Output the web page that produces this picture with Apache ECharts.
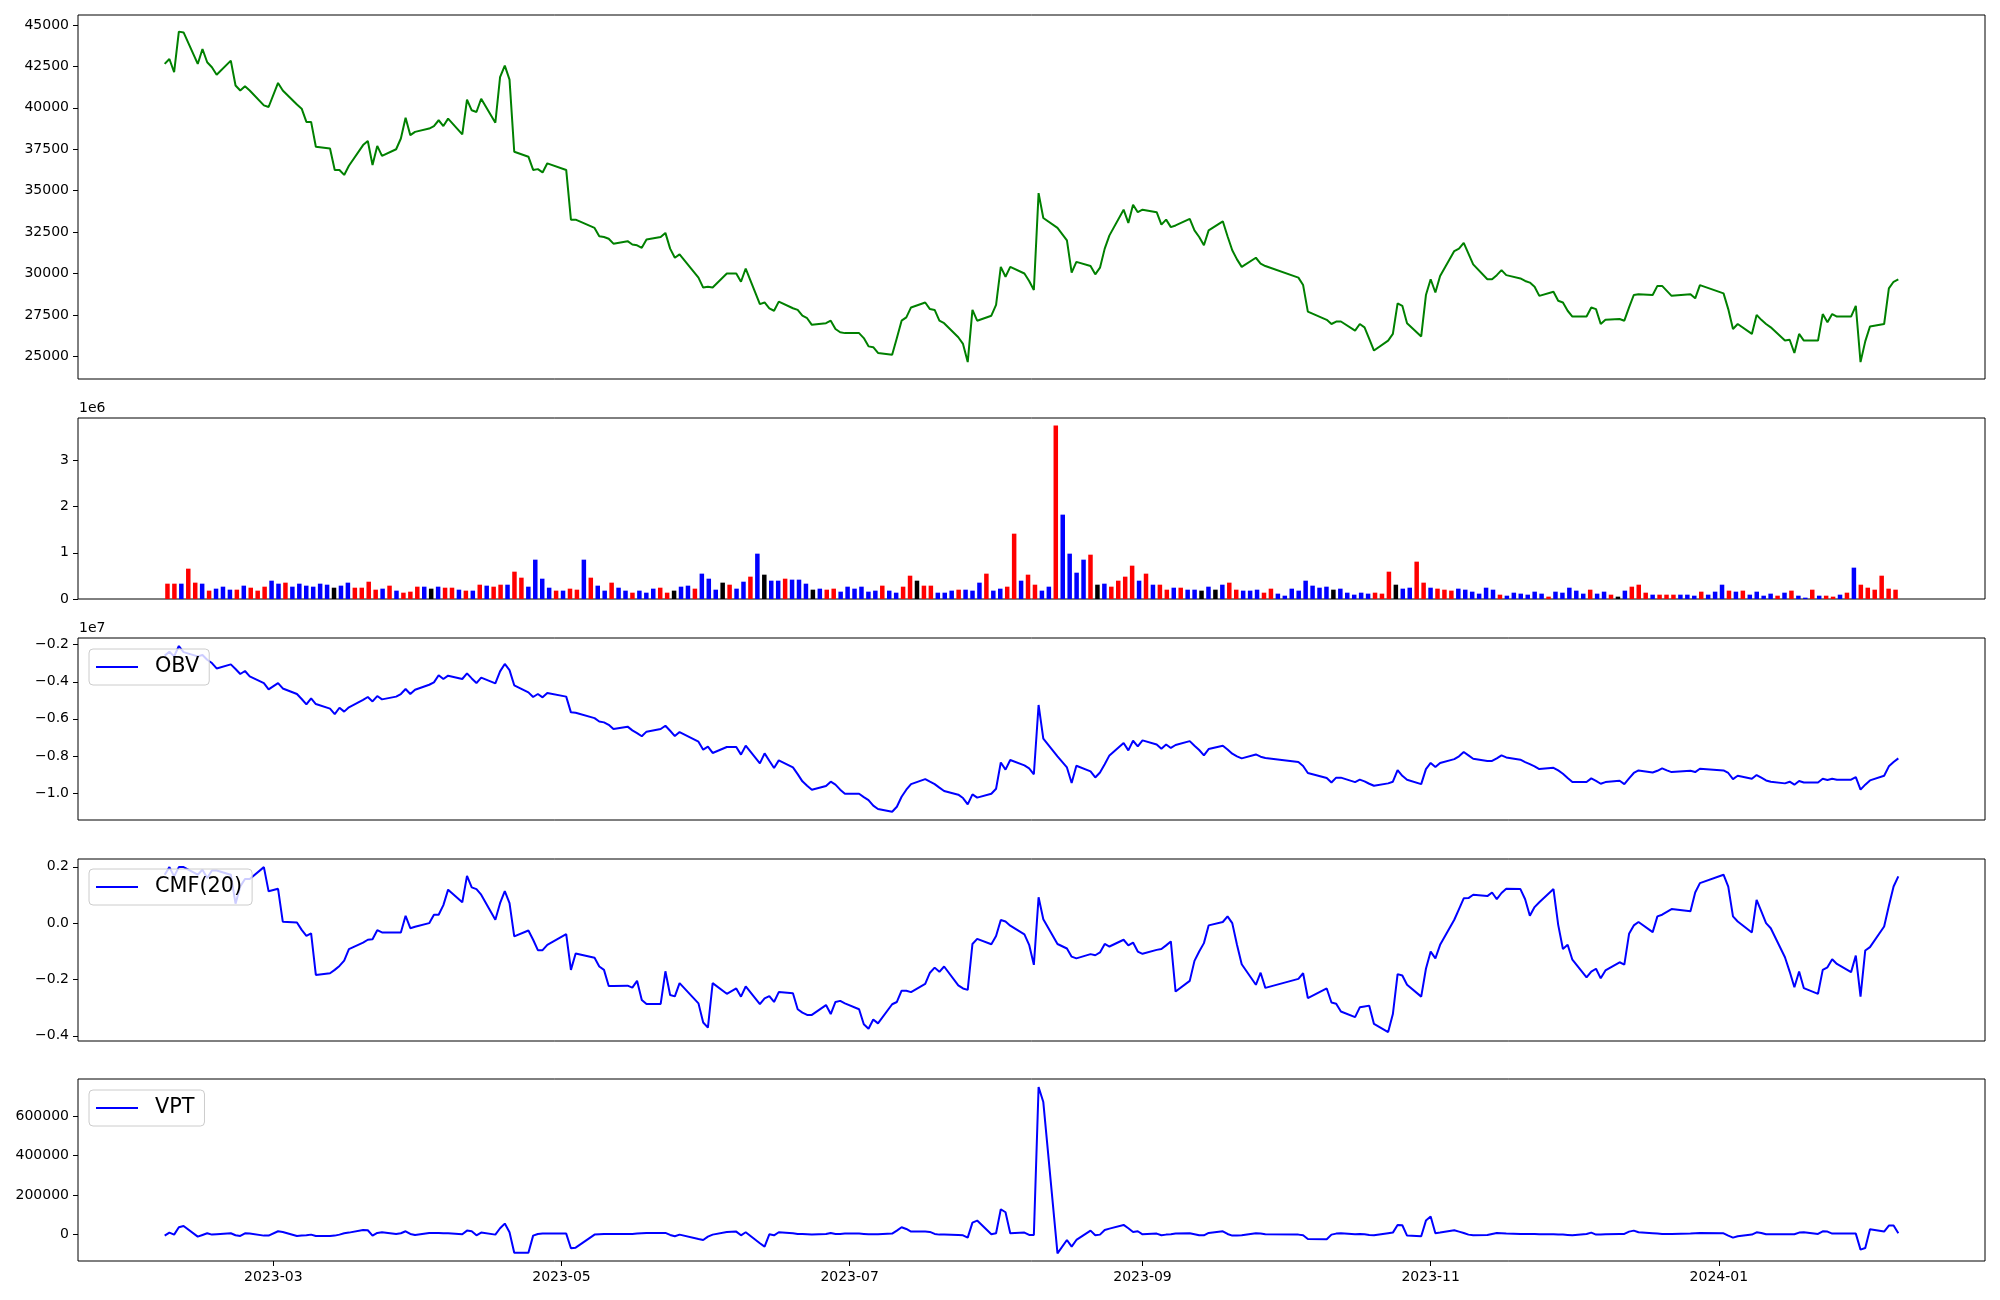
<!DOCTYPE html>
<html><head><meta charset="utf-8">
<script src="https://cdn.jsdelivr.net/npm/echarts@6/dist/echarts.min.js"></script>
<style>html,body{margin:0;padding:0;background:#fff}#c{width:2000px;height:1300px}</style>
</head><body><div id="c"></div>
<script>
// KRX trading days (month -> day list)
const monthDays = [
 ['2023-02','6,7,8,9,10,13,14,15,16,17,20,21,22,23,24,27,28'],
 ['2023-03','2,3,6,7,8,9,10,13,14,15,16,17,20,21,22,23,24,27,28,29,30,31'],
 ['2023-04','3,4,5,6,7,10,11,12,13,14,17,18,19,20,21,24,25,26,27,28'],
 ['2023-05','2,3,4,8,9,10,11,12,15,16,17,18,19,22,23,24,25,26,30,31'],
 ['2023-06','1,2,5,7,8,9,12,13,14,15,16,19,20,21,22,23,26,27,28,29,30'],
 ['2023-07','3,4,5,6,7,10,11,12,13,14,17,18,19,20,21,24,25,26,27,28,31'],
 ['2023-08','1,2,3,4,7,8,9,10,11,14,16,17,18,21,22,23,24,25,28,29,30,31'],
 ['2023-09','1,4,5,6,7,8,11,12,13,14,15,18,19,20,21,22,25,26,27'],
 ['2023-10','4,5,6,10,11,12,13,16,17,18,19,20,23,24,25,26,27,30,31'],
 ['2023-11','1,2,3,6,7,8,9,10,13,14,15,16,17,20,21,22,23,24,27,28,29,30'],
 ['2023-12','1,4,5,6,7,8,11,12,13,14,15,18,19,20,21,22,26,27,28'],
 ['2024-01','2,3,4,5,8,9,10,11,12,15,16,17,18,19,22,23,24,25,26,29,30,31'],
 ['2024-02','1,2,5,6,7,8']
];

const price = [
 42650,42950,42150,44600,44550,42650,43550,42750,42450,42000,42850,41350,41050,41300,41050,40150,40050,
 41500,41050,40200,39950,39150,39150,37650,37550,36250,36250,35950,36500,37750,38000,36550,37700,37100,37500,38150,39400,38350,38550,
 38750,38900,39250,38900,39350,38400,40500,39850,39750,40550,39100,41850,42550,41700,37350,37050,36250,36300,36100,36650,
 36250,33250,33250,32750,32250,32200,32100,31800,31950,31750,31700,31550,32050,32200,32450,31500,30950,31150,29750,29150,
 29200,29150,30000,30000,29500,30300,28150,28250,27900,27750,28300,27900,27800,27450,27300,26900,27000,27150,26650,26450,26400,
 26400,26100,25600,25550,25200,25100,26100,27150,27350,27950,28250,27850,27800,27150,27000,26150,25750,24650,27800,27150,27450,
 28100,30400,29800,30400,30000,29550,29000,34850,33350,32750,32000,30050,30700,30450,29950,30350,31500,32300,33850,33050,34150,33700,
 33850,33700,32950,33250,32800,32900,33300,32600,32200,31700,32600,33150,32250,31400,30850,30400,30950,30600,30450,
 29750,29300,27700,27200,26950,27100,27100,26550,26950,26750,26050,25350,25950,26350,28200,28050,27000,26200,28700,
 29650,28850,29850,31350,31500,31850,31200,30550,29650,29650,29900,30200,29900,29700,29550,29450,29200,28650,28900,28350,28250,27750,
 27400,27400,27950,27850,26950,27200,27250,27150,27950,28700,28750,28700,29250,29250,28950,28650,28750,28500,29300,
 28800,27850,26650,26950,26350,27500,27200,26950,26750,25950,26000,25200,26350,25950,25950,27550,27050,27550,27400,27400,28050,24650,
 25900,26800,26950,29100,29500,29650
];

// volume in thousands of shares
const volumeK = [
 332,332,332,657,354,332,181,224,267,202, 202,289,245,181,267,397,332,354,267,332,
 289,267,332,310,245,289,354,245,245,375, 202,224,289,181,137,159,267,267,224,267,
 245,245,202,181,181,310,289,267,310,310, 592,462,267,852,440,245,181,181,224,202,
 852,462,289,181,354,245,181,137,181,137, 224,245,137,181,267,289,224,549,440,202,
 354,310,224,375,484,982,527,397,397,440, 419,419,332,202,224,202,224,159,267,224,
 267,159,181,289,181,137,267,505,397,289, 289,137,137,181,202,202,181,354,549,181,
 224,267,1415,397,527,310,181,267,3755,1827, 982,570,852,960,310,332,267,397,484,722,
 397,549,310,310,202,245,245,202,202,181, 267,202,310,354,202,181,181,202,137,224,
 116,72,224,181,397,289,245,267,202,224, 137,
 94,137,116,137,116,592,310,224,245,
 809,354,245,224,202,181,224,202,159,116, 245,202,94,72,137,116,94,159,116,51,
 159,137,245,181,116,202,116,159,94,51, 181,267,310,137,94,94,94,94,94,94,
 72,159,94,159,310,181,159,181,94,159, 72,116,72,137,181,72,29,202,72,72,
 51,94,137,679,310,245,202,505,224,202
];
// r = up (red), b = down (blue), k = unchanged (black)
const volDir = (
 'rrbrrbrbbb'+'rbrrrbbrbb'+'bbbbkbbrrr'+'rbrbrrrbkb'+'rrbrbrbrrb'+
 'rrbbbbrbrr'+'brbbrbbrbb'+'brrkbbrbbb'+'krbbrbkbbr'+'bbbkbrrbbb'+
 'bbbrbbrrkr'+'rbbbrbbbrb'+'brrbrrbbrb'+'bbbrkbrrrr'+'brbrrbrbbk'+
 'bkbrrbbbrr'+'bbbbbbbbkb'+'bbbbrrrkbb'+'rrbrrrbbbb'+'bbrbbbbbbr'+
 'bbbbbrbbrk'+'brrrbrrrbb'+'brbbbrbrbb'+'bbrbrbbrbr'+'rbrbrrrrrr').split('');

// OBV in millions
const obvM = [
 -2.59,-2.38,-2.63,-2.07,-2.40,-2.63,-2.56,-2.81,-2.99,-3.28,-3.06,-3.31,-3.58,-3.42,-3.71,-4.07,-4.41,
 -4.07,-4.36,-4.66,-4.93,-5.22,-4.89,-5.20,-5.45,-5.74,-5.40,-5.61,-5.38,-4.98,-4.82,-5.06,-4.77,-4.95,-4.80,-4.66,-4.39,-4.66,-4.43,
 -4.16,-4.03,-3.65,-3.85,-3.67,-3.85,-3.55,-3.82,-4.07,-3.78,-4.09,-3.44,-3.04,-3.37,-4.19,-4.57,-4.82,-4.66,-4.84,-4.61,
 -4.80,-5.65,-5.67,-5.96,-6.14,-6.19,-6.32,-6.55,-6.42,-6.62,-6.77,-6.94,-6.69,-6.55,-6.37,-6.64,-6.93,-6.71,-7.23,-7.66,
 -7.50,-7.84,-7.52,-7.52,-7.93,-7.45,-8.40,-7.86,-8.26,-8.65,-8.24,-8.62,-8.98,-9.37,-9.61,-9.82,-9.62,-9.39,-9.55,-9.82,-10.04,
 -10.04,-10.22,-10.38,-10.68,-10.86,-11.01,-10.74,-10.20,-9.82,-9.52,-9.25,-9.39,-9.52,-9.71,-9.89,-10.09,-10.27,-10.61,-10.07,-10.25,-10.04,
 -9.77,-8.35,-8.74,-8.22,-8.51,-8.67,-8.99,-5.25,-7.07,-8.02,-8.62,-9.46,-8.53,-8.83,-9.16,-8.89,-8.45,-7.97,-7.30,-7.70,-7.18,-7.48,
 -7.16,-7.38,-7.61,-7.38,-7.57,-7.41,-7.20,-7.45,-7.68,-7.97,-7.63,-7.45,-7.65,-7.88,-8.02,-8.13,-7.92,-8.04,-8.11,
 -8.33,-8.54,-8.92,-9.19,-9.43,-9.17,-9.17,-9.41,-9.28,-9.37,-9.50,-9.61,-9.48,-9.39,-8.76,-9.07,-9.28,-9.52,-8.71,
 -8.38,-8.60,-8.38,-8.17,-8.02,-7.79,-7.97,-8.15,-8.27,-8.27,-8.13,-7.97,-8.08,-8.20,-8.33,-8.44,-8.56,-8.71,-8.64,-8.78,-8.96,-9.19,
 -9.41,-9.41,-9.21,-9.34,-9.50,-9.41,-9.34,-9.52,-9.21,-8.92,-8.78,-8.89,-8.80,-8.67,-8.78,-8.87,-8.80,-8.87,-8.69,
 -8.78,-8.92,-9.25,-9.07,-9.23,-9.03,-9.17,-9.32,-9.39,-9.48,-9.39,-9.55,-9.35,-9.43,-9.43,-9.23,-9.30,-9.23,-9.28,-9.28,-9.14,-9.82,
 -9.55,-9.32,-9.07,-8.56,-8.33,-8.13
];

const cmf = [
 0.172,0.199,0.166,0.199,0.199,0.172,0.190,0.160,0.187,0.187,0.172,0.069,0.130,0.157,0.157,0.199,0.113,
 0.122,0.005,0.002,-0.024,-0.045,-0.036,-0.184,-0.178,-0.166,-0.152,-0.133,-0.092,-0.069,-0.059,-0.057,-0.025,-0.033,-0.033,-0.033,0.026,-0.018,-0.013,
 0,0.030,0.030,0.064,0.119,0.074,0.168,0.127,0.121,0.101,0.012,0.071,0.114,0.071,-0.047,-0.026,-0.059,-0.096,-0.096,-0.077,
 -0.039,-0.166,-0.108,-0.123,-0.154,-0.166,-0.223,-0.223,-0.222,-0.229,-0.205,-0.273,-0.287,-0.287,-0.171,-0.255,-0.260,-0.213,-0.285,-0.353,
 -0.371,-0.213,-0.251,-0.232,-0.261,-0.225,-0.288,-0.267,-0.259,-0.280,-0.245,-0.249,-0.306,-0.318,-0.326,-0.326,-0.291,-0.323,-0.280,-0.276,-0.285,
 -0.306,-0.359,-0.375,-0.342,-0.356,-0.288,-0.280,-0.240,-0.240,-0.245,-0.216,-0.176,-0.158,-0.173,-0.154,-0.221,-0.232,-0.237,-0.074,-0.056,-0.075,
 -0.046,0.011,0.006,-0.009,-0.040,-0.077,-0.148,0.092,0.014,-0.074,-0.090,-0.119,-0.125,-0.110,-0.114,-0.104,-0.074,-0.083,-0.059,-0.079,-0.069,-0.101,
 -0.109,-0.095,-0.092,-0.079,-0.065,-0.243,-0.205,-0.134,-0.101,-0.071,-0.008,0.004,0.024,0,-0.077,-0.146,-0.219,-0.176,-0.230,
 -0.198,-0.178,-0.266,-0.232,-0.282,-0.286,-0.314,-0.334,-0.299,-0.296,-0.293,-0.358,-0.387,-0.323,-0.181,-0.186,-0.219,-0.261,-0.162,
 -0.101,-0.125,-0.077,0.012,0.050,0.088,0.089,0.101,0.096,0.109,0.085,0.107,0.122,0.121,0.085,0.026,0.057,0.074,0.121,-0.006,-0.092,-0.077,
 -0.130,-0.193,-0.172,-0.162,-0.196,-0.168,-0.139,-0.147,-0.038,-0.008,0.004,-0.032,0.024,0.030,0.040,0.050,0.042,0.109,0.142,
 0.172,0.130,0.024,0.006,-0.033,0.083,0.042,0,-0.018,-0.121,-0.172,-0.228,-0.172,-0.231,-0.251,-0.166,-0.157,-0.128,-0.145,-0.174,-0.115,-0.261,
 -0.097,-0.085,-0.012,0.062,0.130,0.166
];

const vpt = [
 -6800,8500,-1700,35700,42500,-11900,-3400,5100,-1700,0,5100,-5100,-8500,5100,3400,-6800,-6800,
 15300,11900,-8500,-6800,-5100,-1700,-8500,-8500,-6800,-1700,5100,8500,22100,20400,-6800,6800,10200,1700,5100,15300,1700,-3400,
 6800,6800,6800,5100,5100,0,18700,15300,-5100,8500,-1700,30600,54400,10200,-93500,-93500,-6800,1700,3400,3400,
 3400,-71400,-68000,-1700,0,1700,1700,1700,1700,1700,3400,5100,6800,6800,6800,-3400,-10200,-1700,-23800,-28900,
 -11900,-1700,11900,13600,-5100,10200,-45900,-62900,0,-5100,10200,5100,1700,1700,0,-1700,1700,6800,1700,1700,3400,
 3400,1700,0,0,0,3400,18700,35700,27200,13600,13600,11900,1700,-1700,-1700,-3400,-5100,-17000,59500,69700,0,
 5100,127500,112200,5100,8500,-3400,-3400,749600,673100,-96900,-28900,-62900,-28900,18700,-5100,-1700,22100,28900,47600,30600,11900,15300,
 0,3400,-5100,-1700,0,3400,5100,0,-5100,-5100,6800,15300,1700,-6800,-6800,-5100,5100,3400,0,
 -1700,-5100,-23800,-25500,-1700,3400,5100,0,1700,0,-3400,-5100,5100,8500,47600,45900,-6800,-10200,69700,
 90100,5100,8500,20400,13600,6800,-1700,-5100,-3400,1700,6800,5100,3400,1700,1700,1700,1700,0,0,-1700,-1700,-3400,
 -5100,1700,8500,-1700,-1700,0,1700,1700,13600,18700,10200,5100,3400,1700,1700,1700,3400,5100,6800,
 5100,-6800,-17000,-10200,-1700,10200,6800,0,0,0,0,0,8500,10200,1700,15300,13600,3400,3400,3400,3400,-78200,
 -69700,25500,13600,44200,44200,5100
];

const xTickLabels = ['2023-03','2023-05','2023-07','2023-09','2023-11','2024-01'];
const priceTicks = [25000,27500,30000,32500,35000,37500,40000,42500,45000];
const volTicksM = [0,1,2,3];
const obvTicksM = [-10,-8,-6,-4,-2];
const cmfTicks = [-0.4,-0.2,0,0.2];
const vptTicks = [0,200000,400000,600000];

// ---- build ----
const dates = [];
monthDays.forEach(([ym, ds]) => {
  const [y, m] = ym.split('-').map(Number);
  ds.split(',').forEach(d => dates.push(Date.UTC(y, m - 1, +d)));
});
const N = dates.length;
const t0 = dates[0], t1 = dates[N - 1], pad = (t1 - t0) * 0.05;
const xMin = t0 - pad, xMax = t1 + pad;
const bw = 0.8, ipad = 0.05 * (N - 1 + bw);
const iMin = -bw / 2 - ipad, iMax = N - 1 + bw / 2 + ipad;

const FONT = 'DejaVu Sans';
const minus = s => s.replace(/-/g, '\u2212');
const L = 78, W = 1907;
const gridBase = {left: L, width: W, show: true, borderColor: '#000', borderWidth: 1, backgroundColor: '#fff'};
const tickX = xTickLabels.map(s => Date.UTC(+s.slice(0, 4), +s.slice(5, 7) - 1, 1));
const tickXLabel = {};
tickX.forEach((t, i) => { tickXLabel[t] = xTickLabels[i]; });

function hiddenX(gi, min, max) {
  return {type: 'value', gridIndex: gi, min, max, position: 'bottom', axisLine: {show: false, onZero: false},
          axisTick: {show: false}, axisLabel: {show: false}, splitLine: {show: false}};
}
function yAx(gi, min, max, ticks, fmt) {
  return {type: 'value', gridIndex: gi, min, max, position: 'left',
    axisLine: {show: false, onZero: false}, splitLine: {show: false},
    axisTick: {show: true, length: 5, lineStyle: {color: '#000', width: 1}, customValues: ticks},
    axisLabel: {show: true, customValues: ticks, formatter: fmt, color: '#000', fontFamily: FONT, fontSize: 14, margin: 9}};
}
const legendBase = {
  orient: 'horizontal', icon: 'rect', itemWidth: 42, itemHeight: 2.2, selectedMode: false,
  padding: [6, 10, 6, 7], backgroundColor: 'rgba(255,255,255,0.8)', borderColor: '#cccccc',
  borderWidth: 1, borderRadius: 4,
  textStyle: {fontFamily: FONT, fontSize: 20.8, color: '#000', lineHeight: 24, padding: [0, 0, 0, 12]}
};
const lineS = (name, xi, vals, color) => ({
  name, type: 'line', xAxisIndex: xi, yAxisIndex: xi, showSymbol: false, symbol: 'none',
  lineStyle: {color, width: 2}, itemStyle: {color}, clip: true,
  data: dates.map((t, i) => [t, vals[i]])
});
const dirColor = {r: '#ff0000', b: '#0000ff', k: '#000000'};

const option = {
  animation: false,
  backgroundColor: '#fff',
  textStyle: {fontFamily: FONT},
  grid: [
    Object.assign({top: 15, height: 364}, gridBase),
    Object.assign({top: 418, height: 181}, gridBase),
    Object.assign({top: 638, height: 182}, gridBase),
    Object.assign({top: 859, height: 182}, gridBase),
    Object.assign({top: 1079, height: 182}, gridBase)
  ],
  xAxis: [
    hiddenX(0, xMin, xMax),
    hiddenX(1, iMin, iMax),
    hiddenX(2, xMin, xMax),
    hiddenX(3, xMin, xMax),
    {type: 'value', gridIndex: 4, min: xMin, max: xMax, position: 'bottom',
     axisLine: {show: false, onZero: false}, splitLine: {show: false},
     axisTick: {show: true, length: 5, lineStyle: {color: '#000', width: 1}, customValues: tickX},
     axisLabel: {show: true, customValues: tickX, color: '#000', fontFamily: FONT, fontSize: 14, margin: 9,
       formatter: v => tickXLabel[v] || ''}}
  ],
  yAxis: [
    yAx(0, 23630, 45604, priceTicks, v => String(Math.round(v))),
    yAx(1, 0, 3.92, volTicksM, v => String(Math.round(v))),
    yAx(2, -11.455, -1.639, obvTicksM, v => minus((v / 10).toFixed(1))),
    yAx(3, -0.4186, 0.2278, cmfTicks, v => minus((Math.abs(v) < 1e-9 ? 0 : v).toFixed(1))),
    yAx(4, -136000, 790400, vptTicks, v => minus(String(Math.round(v))))
  ],
  legend: [
    Object.assign({data: ['OBV'], left: 89, top: 649}, legendBase),
    Object.assign({data: ['CMF(20)'], left: 89, top: 869}, legendBase),
    Object.assign({data: ['VPT'], left: 89, top: 1090}, legendBase)
  ],
  graphic: [
    {type: 'text', left: 79, top: 401, style: {text: '1e6', fill: '#000', font: '14px "DejaVu Sans"'}},
    {type: 'text', left: 79, top: 621, style: {text: '1e7', fill: '#000', font: '14px "DejaVu Sans"'}}
  ],
  series: [
    lineS('Close', 0, price, '#008000'),
    {name: 'Volume', type: 'bar', xAxisIndex: 1, yAxisIndex: 1, barWidth: 4.5,
     data: volumeK.map((v, i) => ({value: [i, v / 1000], itemStyle: {color: dirColor[volDir[i]]}}))},
    lineS('OBV', 2, obvM, '#0000ff'),
    lineS('CMF(20)', 3, cmf, '#0000ff'),
    lineS('VPT', 4, vpt, '#0000ff')
  ]
};
const chart = echarts.init(document.getElementById('c'), null, {renderer: 'canvas', width: 2000, height: 1300});
chart.setOption(option);
</script>
</body></html>
